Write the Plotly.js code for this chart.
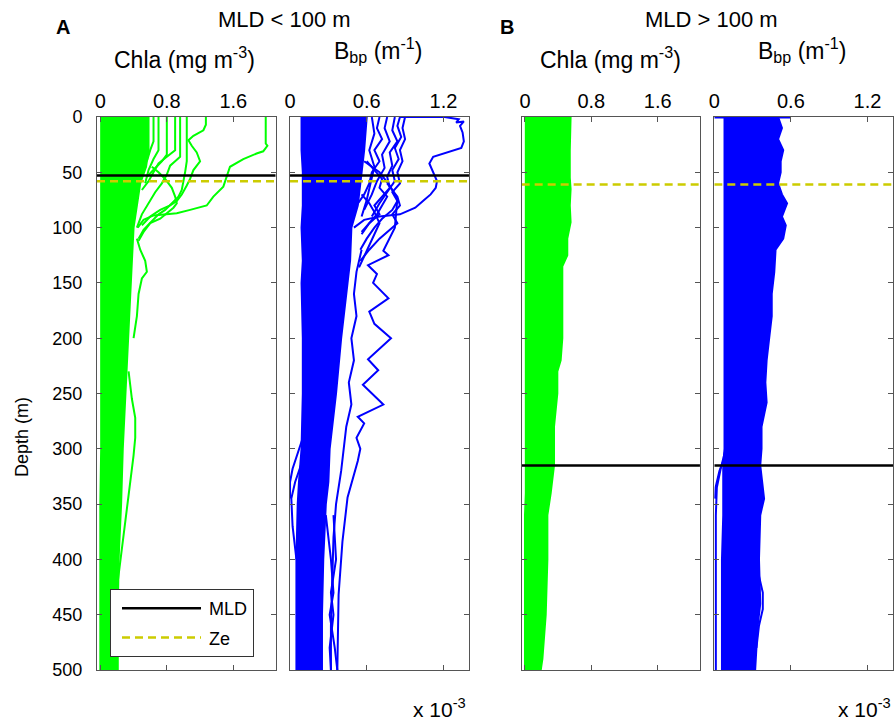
<!DOCTYPE html>
<html>
<head>
<meta charset="utf-8">
<script src="https://cdn.plot.ly/plotly-3.0.1.min.js"></script>
<style>body{margin:0;background:#fff}#chart{width:894px;height:722px}</style>
</head>
<body>
<div id="chart"></div>
<script>
// ---------------- DATA ----------------
// Depth in m; Chla in mg m^-3; Bbp in units of 10^-3 m^-1
const mldA = 53, zeA = 58;      // group A: MLD < 100 m
const mldB = 315, zeB = 61;     // group B: MLD > 100 m

// Dense bundle of profiles: envelope (left / right edge) vs depth
const chlaA_depth = [0, 30, 45, 60, 80, 100, 130, 160, 200, 250, 300, 350, 400, 450, 500];
const chlaA_left  = [0.01, 0.01, 0.01, 0.01, 0.01, 0.01, 0.01, 0.01, 0.01, 0.01, 0.01, 0.0, 0.0, 0.0, 0.0];
const chlaA_right = [0.58, 0.58, 0.55, 0.48, 0.44, 0.40, 0.38, 0.36, 0.33, 0.30, 0.27, 0.25, 0.22, 0.21, 0.21];

const bbpA_depth = [0, 30, 50, 80, 100, 130, 150, 200, 250, 300, 330, 350, 400, 450, 500];
const bbpA_left  = [0.09, 0.09, 0.10, 0.10, 0.09, 0.10, 0.09, 0.10, 0.10, 0.09, 0.07, 0.06, 0.05, 0.05, 0.05];
const bbpA_right = [0.60, 0.58, 0.56, 0.53, 0.48, 0.47, 0.45, 0.40, 0.36, 0.31, 0.30, 0.28, 0.26, 0.25, 0.25];

const chlaB_depth = [0, 30, 55, 65, 80, 95, 110, 125, 135, 150, 200, 220, 230, 250, 280, 315, 340, 360, 400, 450, 470, 490, 500];
const chlaB_left  = [0.01, 0.01, 0.01, 0.01, 0.01, 0.01, 0.01, 0.01, 0.01, 0.01, 0.01, 0.01, 0.01, 0.01, 0.01, 0.01, 0.01, 0.0, 0.0, 0.0, 0.0, 0.0, 0.0];
const chlaB_right = [0.55, 0.54, 0.54, 0.55, 0.54, 0.55, 0.51, 0.51, 0.45, 0.45, 0.45, 0.43, 0.39, 0.39, 0.35, 0.35, 0.31, 0.27, 0.27, 0.25, 0.23, 0.21, 0.19];

const bbpB_depth = [0, 10, 20, 30, 40, 50, 60, 70, 78, 90, 98, 110, 120, 140, 160, 180, 200, 220, 240, 258, 280, 300, 315, 345, 360, 400, 440, 460, 500];
const bbpB_left  = [0.08, 0.08, 0.08, 0.08, 0.08, 0.08, 0.08, 0.08, 0.08, 0.08, 0.08, 0.08, 0.08, 0.08, 0.08, 0.08, 0.08, 0.08, 0.08, 0.08, 0.08, 0.08, 0.07, 0.07, 0.07, 0.06, 0.06, 0.06, 0.06];
const bbpB_right = [0.50, 0.53, 0.50, 0.54, 0.52, 0.52, 0.50, 0.53, 0.57, 0.53, 0.56, 0.54, 0.48, 0.47, 0.45, 0.45, 0.43, 0.41, 0.40, 0.41, 0.37, 0.37, 0.36, 0.39, 0.36, 0.35, 0.36, 0.34, 0.32];

// Individual profiles standing out of the bundle
const chlaA_profX = [
  [1.99, 1.99, 2.01, 1.96, 1.88, 1.72, 1.56, 1.52, 1.48, 1.36, 1.28, 1.08, 0.92, 0.64, 0.52, 0.45],
  [1.27, 1.27, 1.24, 1.12, 1.06, 1.10, 1.16, 1.20, 1.12, 1.08, 1.04, 0.98, 0.92, 0.84, 0.72, 0.60, 0.50],
  [1.04, 1.04, 1.02, 1.00, 0.98, 0.94, 0.86, 0.78, 0.70, 0.62, 0.52, 0.46],
  [0.96, 0.96, 0.90, 0.84, 0.80, 0.74, 0.66, 0.58, 0.50, 0.44],
  [0.90, 0.90, 0.80, 0.70, 0.64, 0.58, 0.50],
  [0.80, 0.80, 0.74, 0.66, 0.56],
  [0.70, 0.70, 0.64, 0.58, 0.54],
  [0.64, 0.64, 0.60, 0.56],
  [0.62, 0.70, 0.78, 0.86, 0.90, 0.92, 0.88, 0.82, 0.72, 0.60, 0.52, 0.46],
  [0.44, 0.48, 0.54, 0.56, 0.50, 0.46, 0.44, 0.40],
  [0.34, 0.38, 0.42, 0.42, 0.40, 0.36, 0.32, 0.26, 0.20, 0.16]
];
const chlaA_profD = [
  [0, 24, 26, 31, 33, 38, 45, 54, 63, 72, 80, 84, 87, 89, 93, 100],
  [0, 7, 12, 17, 21, 26, 32, 40, 48, 56, 62, 70, 76, 80, 84, 90, 98],
  [0, 40, 50, 60, 66, 72, 78, 84, 88, 94, 102, 110],
  [0, 36, 40, 44, 52, 60, 68, 78, 88, 100],
  [0, 30, 36, 42, 50, 58, 66],
  [0, 34, 40, 46, 54],
  [0, 30, 38, 48, 60],
  [0, 22, 30, 40],
  [45, 50, 56, 64, 72, 78, 82, 86, 92, 96, 104, 112],
  [110, 120, 130, 140, 146, 160, 180, 200],
  [230, 255, 272, 290, 306, 330, 352, 390, 426, 440]
];

const bbpA_profX = [
  [0.86, 1.21, 1.32, 1.30, 1.36, 1.33, 1.35, 1.36, 1.34, 1.22, 1.12, 1.09, 1.12, 1.15, 1.14, 1.10, 1.04, 0.98, 0.86, 0.70, 0.58, 0.50],
  [0.58, 0.70, 0.78, 0.84, 0.82, 0.73, 0.77, 0.61, 0.68, 0.65, 0.77, 0.62, 0.66, 0.79, 0.61, 0.69, 0.57, 0.73, 0.53, 0.58, 0.52, 0.55, 0.53, 0.45, 0.41, 0.38, 0.37],
  [0.90, 0.88, 0.90, 0.86, 0.88, 0.84, 0.86, 0.80, 0.84, 0.80, 0.72, 0.66, 0.60, 0.55],
  [0.82, 0.80, 0.84, 0.78, 0.80, 0.76, 0.78, 0.72, 0.66, 0.70, 0.62, 0.56],
  [0.70, 0.68, 0.72, 0.66, 0.70, 0.64, 0.62, 0.58, 0.52],
  [0.76, 0.84, 0.86, 0.80, 0.84, 0.76, 0.70, 0.62, 0.55],
  [0.64, 0.66, 0.62, 0.66, 0.63, 0.60, 0.56],
  [0.76, 0.74, 0.78, 0.72, 0.74, 0.68, 0.64, 0.58],
  [0.86, 0.84, 0.87, 0.82, 0.85, 0.80, 0.82, 0.76, 0.70, 0.64],
  [0.60, 0.66, 0.72, 0.70, 0.76, 0.72, 0.68, 0.62, 0.56],
  [0.56, 0.62, 0.66, 0.70, 0.66, 0.62, 0.58, 0.54],
  [0.56, 0.52, 0.50, 0.52, 0.48, 0.50, 0.46, 0.48, 0.44, 0.42, 0.40, 0.36, 0.34, 0.33, 0.32, 0.32],
  [0.10, 0.06, 0.02, 0.0, 0.0],
  [0.10, 0.04, 0.01, 0.02, 0.05],
  [0.28, 0.32, 0.34, 0.31, 0.35, 0.37],
  [0.34, 0.36, 0.32, 0.34, 0.31, 0.32]
];
const bbpA_profD = [
  [0, 0, 2, 5, 4, 8, 14, 22, 28, 32, 36, 42, 50, 58, 64, 70, 76, 82, 88, 90, 93, 100],
  [40, 50, 62, 74, 100, 121, 125, 134, 142, 150, 164, 176, 187, 200, 219, 229, 242, 260, 271, 277, 290, 300, 311, 344, 384, 432, 500],
  [0, 10, 20, 30, 40, 50, 60, 68, 76, 84, 92, 100, 110, 120],
  [0, 12, 22, 32, 44, 54, 64, 72, 80, 88, 96, 104],
  [0, 10, 20, 30, 40, 50, 60, 70, 80],
  [60, 72, 80, 88, 96, 104, 110, 120, 130],
  [0, 15, 30, 45, 60, 75, 90],
  [0, 10, 22, 34, 46, 58, 70, 84],
  [0, 8, 18, 28, 38, 48, 58, 68, 78, 90],
  [40, 48, 56, 64, 72, 80, 88, 96, 106],
  [70, 78, 86, 96, 106, 116, 126, 136],
  [120, 140, 160, 180, 200, 220, 240, 260, 280, 300, 320, 350, 380, 420, 460, 500],
  [290, 305, 318, 330, 345],
  [310, 330, 345, 370, 400],
  [360, 400, 430, 450, 480, 500],
  [360, 400, 430, 450, 480, 500]
];

const bbpB_profX = [
  [0.0, 0.60],
  [0.09, 0.05, 0.02, 0.012, 0.012, 0.012],
  [0.09, 0.04, 0.01, 0.005],
  [0.34, 0.38, 0.38, 0.35, 0.33]
];
const bbpB_profD = [
  [0.5, 0.5],
  [300, 318, 335, 360, 420, 500],
  [305, 320, 335, 345],
  [410, 430, 445, 460, 480]
];

// Axis settings / labels
const chlaTicks = [0, 0.8, 1.6];
const bbpTicks = [0, 0.6, 1.2];
const depthTicks = [0, 50, 100, 150, 200, 250, 300, 350, 400, 450, 500];
const chlaRange = [-0.04, 2.11];
const bbpRange = [0, 1.40];
const depthRange = [500, 0];

// ---------------- BUILD ----------------
const GREEN = '#00ff00', BLUE = '#0000ff', ZEC = '#cccc00', FR = '#555555';
const FONT = 'Liberation Sans, Arial, Helvetica, sans-serif';
const traces = [];

function bundle(depth, left, right, color, xa, ya) {
  const x = left.concat(right.slice().reverse(), [left[0]]);
  const y = depth.concat(depth.slice().reverse(), [depth[0]]);
  traces.push({x, y, xaxis: xa, yaxis: ya, type: 'scatter', mode: 'lines', fill: 'toself',
    fillcolor: color, line: {color, width: 2}, showlegend: false, hoverinfo: 'skip'});
}
function profiles(X, D, color, xa, ya) {
  X.forEach((xs, i) => traces.push({x: xs, y: D[i], xaxis: xa, yaxis: ya, type: 'scatter', mode: 'lines',
    line: {color, width: 2}, showlegend: false, hoverinfo: 'skip'}));
}
function refLines(mld, ze, range, xa, ya, legend) {
  traces.push({x: range, y: [mld, mld], xaxis: xa, yaxis: ya, type: 'scatter', mode: 'lines',
    line: {color: '#000', width: 2.5}, name: 'MLD', showlegend: legend, legendgroup: 'mld'});
  traces.push({x: range, y: [ze, ze], xaxis: xa, yaxis: ya, type: 'scatter', mode: 'lines',
    line: {color: ZEC, width: 2.5, dash: '8px,5px'}, name: 'Ze', showlegend: legend, legendgroup: 'ze'});
}

bundle(chlaA_depth, chlaA_left, chlaA_right, GREEN, 'x', 'y');
profiles(chlaA_profX, chlaA_profD, GREEN, 'x', 'y');
bundle(bbpA_depth, bbpA_left, bbpA_right, BLUE, 'x2', 'y2');
profiles(bbpA_profX, bbpA_profD, BLUE, 'x2', 'y2');
bundle(chlaB_depth, chlaB_left, chlaB_right, GREEN, 'x3', 'y3');
bundle(bbpB_depth, bbpB_left, bbpB_right, BLUE, 'x4', 'y4');
profiles(bbpB_profX, bbpB_profD, BLUE, 'x4', 'y4');

refLines(mldA, zeA, chlaRange, 'x', 'y', true);
refLines(mldA, zeA, bbpRange, 'x2', 'y2', false);
refLines(mldB, zeB, chlaRange, 'x3', 'y3', false);
refLines(mldB, zeB, bbpRange, 'x4', 'y4', false);

function xax(domain, range, tickvals, anchor) {
  return {domain, range, tickvals, ticktext: tickvals.map(String), side: 'top', anchor,
    ticks: 'inside', ticklen: 5, tickcolor: FR, mirror: 'allticks', showline: true, linecolor: FR, linewidth: 1,
    showgrid: false, zeroline: false, tickfont: {family: FONT, size: 20, color: '#000'}, fixedrange: true};
}
function yax(anchor, labels) {
  return {domain: [0, 1], range: depthRange, tickvals: depthTicks, anchor, showticklabels: labels,
    ticks: 'inside', ticklen: 5, tickcolor: FR, mirror: 'allticks', showline: true, linecolor: FR, linewidth: 1,
    showgrid: false, zeroline: false, tickfont: {family: FONT, size: 18, color: '#000'}, ticklabelstandoff: 10,
    fixedrange: true};
}

// pixel -> paper helpers (plot area: x 97..893, y 117..670)
const px = v => (v - 97) / 796;
const py = v => (670 - v) / 553;
function ann(text, x, y, size, extra) {
  return Object.assign({text, x: px(x), y: py(y), xref: 'paper', yref: 'paper', showarrow: false,
    xanchor: 'center', yanchor: 'middle', font: {family: FONT, size, color: '#000'}}, extra || {});
}

const layout = {
  width: 894, height: 722,
  margin: {l: 97, r: 1, t: 117, b: 52, pad: 0},
  paper_bgcolor: '#fff', plot_bgcolor: '#fff',
  font: {family: FONT, color: '#000'},
  xaxis: xax([0, 0.2245], chlaRange, chlaTicks, 'y'),
  xaxis2: xax([0.2425, 0.4673], bbpRange, bbpTicks, 'y2'),
  xaxis3: xax([0.5335, 0.7575], chlaRange, chlaTicks, 'y3'),
  xaxis4: xax([0.7755, 1], bbpRange, bbpTicks, 'y4'),
  yaxis: yax('x', true),
  yaxis2: yax('x2', false),
  yaxis3: yax('x3', false),
  yaxis4: yax('x4', false),
  showlegend: true,
  legend: {x: px(110), y: py(589), xanchor: 'left', yanchor: 'top', bgcolor: '#fff',
    bordercolor: '#333', borderwidth: 1, font: {family: FONT, size: 18, color: '#000'},
    itemwidth: 88, tracegroupgap: 3, traceorder: 'grouped'},
  annotations: [
    ann('<b>A</b>', 63, 27, 20),
    ann('MLD &lt; 100 m', 284, 20, 22),
    ann('Chla (mg m<sup>-3</sup>)', 184, 58, 23),
    ann('B<sub>bp</sub> (m<sup>-1</sup>)', 378, 50, 23),
    ann('<b>B</b>', 507, 27, 20),
    ann('MLD &gt; 100 m', 711, 20, 22),
    ann('Chla (mg m<sup>-3</sup>)', 610, 58, 23),
    ann('B<sub>bp</sub> (m<sup>-1</sup>)', 802, 50, 23),
    ann('x 10<sup>-3</sup>', 439, 708, 21),
    ann('x 10<sup>-3</sup>', 864, 708, 21),
    ann('Depth (m)', 22, 437, 18, {textangle: -90})
  ]
};

Plotly.newPlot('chart', traces, layout, {staticPlot: true, displayModeBar: false}).then(() => {
  document.querySelectorAll('.legend .js-line').forEach(p => p.setAttribute('d', 'M11,0h79'));
});
</script>
</body>
</html>
